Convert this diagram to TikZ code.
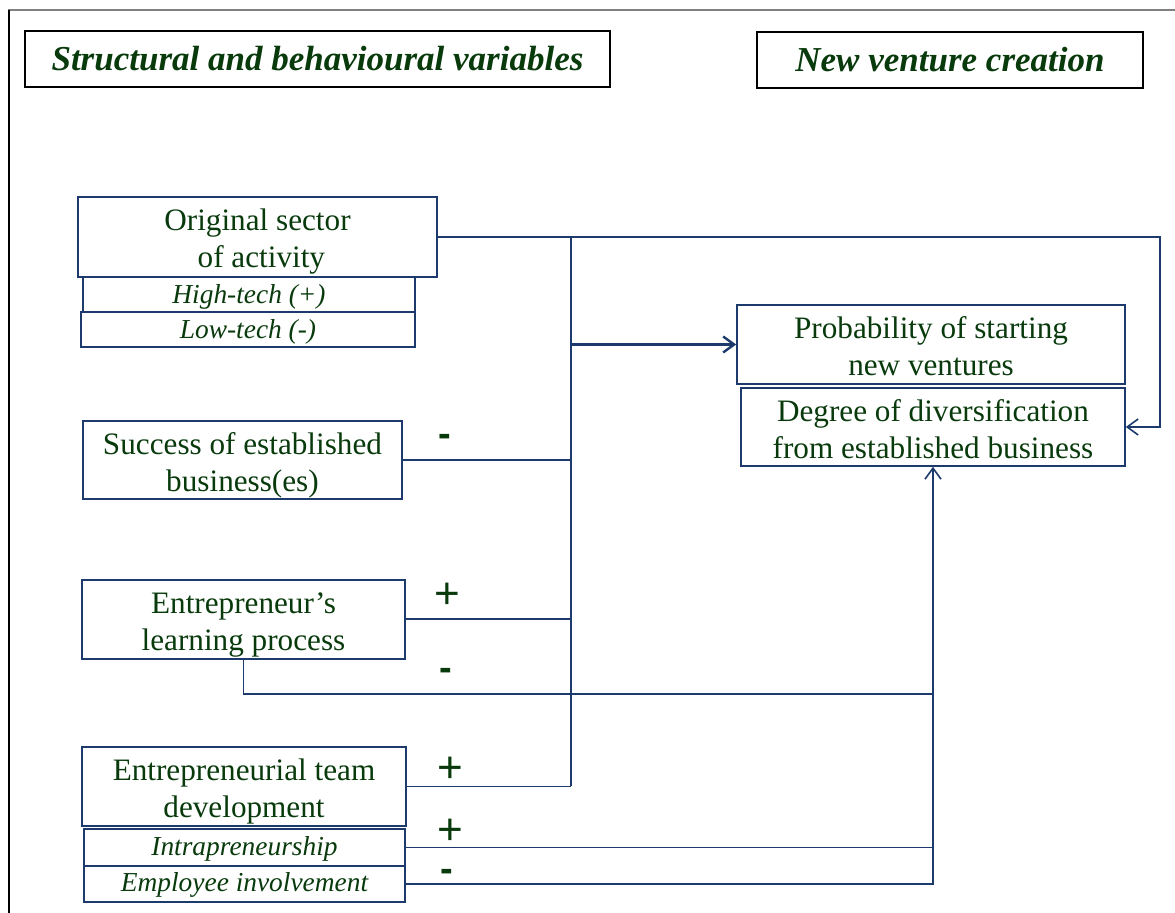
\documentclass[tikz,border=0pt]{standalone}
\usepackage{fontspec}
\setmainfont{Liberation Serif}
\newfontfamily\signfont{Liberation Sans}
\usetikzlibrary{arrows.meta}
\definecolor{txtgreen}{RGB}{8,58,12}
\definecolor{lineblue}{RGB}{28,58,108}
\definecolor{framegray}{RGB}{128,128,128}
\tikzset{
  box/.style={draw=lineblue, line width=0.8pt, inner sep=0pt},
  subbox/.style={draw=lineblue, line width=0.9pt, inner sep=0pt},
  boxtext/.style={inner sep=0pt, align=center, text=txtgreen,
    font=\fontsize{15.6pt}{18.5pt}\selectfont},
  subtext/.style={inner sep=0pt, align=center, text=txtgreen,
    font=\fontsize{13.7pt}{16pt}\selectfont\itshape},
  hdr/.style={draw=black, line width=0.8pt, inner sep=0pt, align=center, text=txtgreen,
    font=\fontsize{17.5pt}{20pt}\selectfont\bfseries\itshape},
  conn/.style={draw=lineblue, line width=0.8pt},
  arr/.style={conn, -{Straight Barb[length=5.5pt,width=8pt]}},
  sign/.style={text=txtgreen, inner sep=0pt, font=\signfont\fontsize{22pt}{24pt}\selectfont},
  bsign/.style={text=txtgreen, inner sep=0pt, font=\signfont\bfseries\fontsize{19pt}{21pt}\selectfont}
}
\begin{document}
\begin{tikzpicture}[x=0.5pt, y=-0.5pt]
\useasboundingbox (0,0) rectangle (1175,913);
% frame
\draw[framegray, line width=0.9pt] (8,10) -- (1175,10);
\draw[black, line width=0.8pt] (9,10) -- (9,913);
% headers
\node[hdr, minimum width=292.5pt, minimum height=28pt] (hA) at (317.5,59) {Structural and behavioural variables};
\node[hdr, minimum width=193pt, minimum height=28pt] (hB) at (950,60) {New venture creation};
% left boxes
\node[box, minimum width=179.5pt, minimum height=40pt] (orig) at (257.5,237) {};
\node[boxtext] (origT) at ([yshift=-2.5pt]orig.center) {Original sector\\ \ of activity};
\node[subbox, minimum width=166pt, minimum height=17.5pt] (high) at (249,294.5) {};
\node[subtext] (highT) at ([yshift=-1pt]high.center) {High-tech (+)};
\node[subbox, minimum width=167pt, minimum height=17.5pt] (low) at (248,329.5) {};
\node[subtext] (lowT) at ([yshift=-1pt]low.center) {Low-tech (-)};
\node[box, minimum width=159.5pt, minimum height=39pt] (succ) at (242.5,460) {};
\node[boxtext] (succT) at ([yshift=-2.5pt]succ.center) {Success of established\\business(es)};
\node[box, minimum width=161.5pt, minimum height=39.5pt] (learn) at (243.5,619.5) {};
\node[boxtext] (learnT) at ([yshift=-2.5pt]learn.center) {Entrepreneur’s\\learning process};
\node[box, minimum width=162pt, minimum height=39.5pt] (team) at (244,786.5) {};
\node[boxtext] (teamT) at ([yshift=-2.5pt]team.center) {Entrepreneurial team\\development};
\node[subbox, minimum width=160.5pt, minimum height=18.5pt] (intra) at (244.5,847.5) {};
\node[subtext] (intraT) at ([yshift=-0.5pt]intra.center) {Intrapreneurship};
\node[subbox, minimum width=160.5pt, minimum height=18pt] (empl) at (244.5,884) {};
\node[subtext] (emplT) at ([yshift=-0.5pt]empl.center) {Employee involvement};
% right boxes
\node[box, minimum width=194pt, minimum height=39.5pt] (prob) at (931,344.5) {};
\node[boxtext] (probT) at ([yshift=-1pt]prob.center) {Probability of starting\\new ventures};
\node[box, minimum width=192pt, minimum height=39pt] (deg) at (933,427) {};
\node[boxtext] (degT) at ([yshift=-1pt]deg.center) {Degree of diversification\\from established business};
% coordinates
\coordinate (rt) at (1160,237);
\coordinate (busT) at (571,237);
\coordinate (busB) at (571,786.5);
\coordinate (lm) at (243.5,694);
% connectors
\draw[conn] (busT) -- (busB);
\draw[arr] (orig.east) -- (rt) -- (rt |- deg.east) -- (deg.east);
\draw[arr, line width=1.2pt] (busT |- prob.west) -- (prob.west);
\draw[conn] (succ.east) -- (succ.east -| busT);
\draw[conn, line width=1pt] (learn.east) -- (learn.east -| busT);
\draw[conn] (team.east) -- (busB);
\draw[conn] (learn.south) -- (lm) -- (lm -| deg.south);
\draw[conn] (intra.east) -- (intra.east -| deg.south);
\draw[arr] (empl.east) -- (empl.east -| deg.south) -- (deg.south);
% signs
\node[bsign] (s1) at (445,440) {-};
\node[sign] (s2) at (447,596) {+};
\node[bsign] (s3) at (446,674) {-};
\node[sign] (s4) at (450,770) {+};
\node[sign] (s5) at (450,832) {+};
\node[bsign] (s6) at (447,875) {-};
\end{tikzpicture}
\end{document}
